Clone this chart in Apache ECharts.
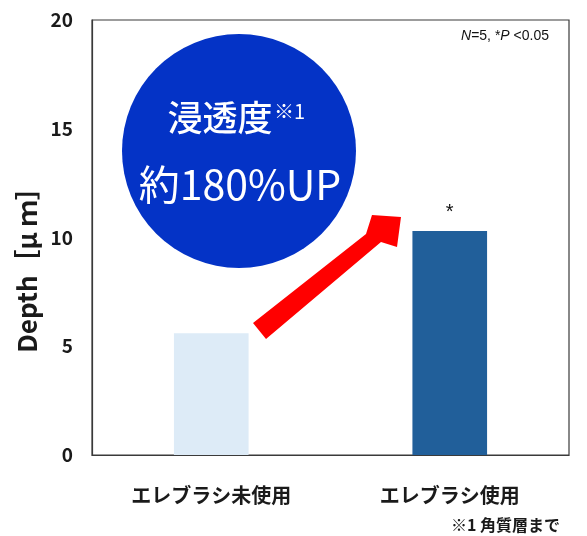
<!DOCTYPE html>
<html><head><meta charset="utf-8">
<script src="https://cdn.jsdelivr.net/npm/echarts@6/dist/echarts.min.js"></script>
<style>html,body{margin:0;padding:0;background:#fff}#c{width:587px;height:536px}</style>
</head><body><div id="c"></div>
<script>
const categories = ['エレブラシ未使用', 'エレブラシ使用'];
const depthValues = [5.6, 10.3];
const barColors = ['#DDEBF7', '#215F9A'];
const yTicks = [0, 5, 10, 15, 20];

const chart = echarts.init(document.getElementById('c'));
const JP = '"Noto Sans CJK JP", "Noto Sans", sans-serif';
chart.setOption({
  animation: false,
  grid: { left: 92, right: 18, top: 20, bottom: 81, show: true, borderColor: '#3a3a3a', borderWidth: 1.2, backgroundColor: 'transparent' },
  xAxis: {
    type: 'category', data: categories,
    axisLine: { lineStyle: { color: '#3a3a3a', width: 1.2 } },
    axisTick: { show: false },
    axisLabel: { margin: 30, fontSize: 20, fontWeight: 'bold', color: '#1a1a1a', fontFamily: JP }
  },
  yAxis: {
    type: 'value', min: yTicks[0], max: yTicks[yTicks.length - 1], interval: 5,
    name: 'Depth［μ ｍ］', nameLocation: 'middle', nameGap: 52, nameRotate: 90,
    nameTextStyle: { fontSize: 26, fontWeight: 'bold', color: '#1a1a1a', fontFamily: JP, padding: [0, 52, 0, 0] },
    axisLine: { show: true, lineStyle: { color: '#3a3a3a', width: 1.2 } },
    axisTick: { show: false },
    splitLine: { show: false },
    axisLabel: { margin: 19, fontSize: 19, fontWeight: 'bold', color: '#1a1a1a', fontFamily: JP }
  },
  series: [{
    type: 'bar', barWidth: '31.3%',
    data: depthValues.map((v, i) => ({
      value: v, itemStyle: { color: barColors[i] },
      label: i === 1 ? { show: true, position: 'top', distance: 8, formatter: '*', fontSize: 20, color: '#111', fontFamily: 'Liberation Sans' } : { show: false }
    }))
  }],
  graphic: [
    { type: 'circle', shape: { cx: 239, cy: 151, r: 117 }, style: { fill: '#0433C6' }, z: 10 },
    { type: 'text', x: 220, y: 118, style: { text: '浸透度', fill: '#fff', font: '500 35px "Noto Sans CJK JP"', align: 'center', verticalAlign: 'middle' }, z: 11 },
    { type: 'text', x: 274, y: 111, style: { text: '※1', fill: '#fff', font: '400 20px "Noto Sans CJK JP"', align: 'left', verticalAlign: 'middle' }, z: 11 },
    { type: 'text', x: 240, y: 184, style: { text: '約180%UP', fill: '#fff', font: '400 41px "Noto Sans CJK JP"', align: 'center', verticalAlign: 'middle' }, z: 11 },
    { type: 'polygon', shape: { points: [[253,323],[366,234],[372,215],[401,217],[397,247],[381,242],[266,339]] }, style: { fill: '#FF0000' }, z: 10 },
    { type: 'text', right: 38, top: 29, style: { rich: { i: { fontStyle: 'italic', fontSize: 14, fontFamily: 'Liberation Sans', fill: '#111' }, n: { fontSize: 14, fontFamily: 'Liberation Sans', fill: '#111' } }, text: '{i|N}{n|=5, *}{i|P}{n| <0.05}' }, z: 11 },
    { type: 'text', right: 27, top: 517, style: { text: '※1 角質層まで', fill: '#1a1a1a', font: 'bold 16px "Noto Sans CJK JP"' }, z: 11 }
  ]
});
</script></body></html>
